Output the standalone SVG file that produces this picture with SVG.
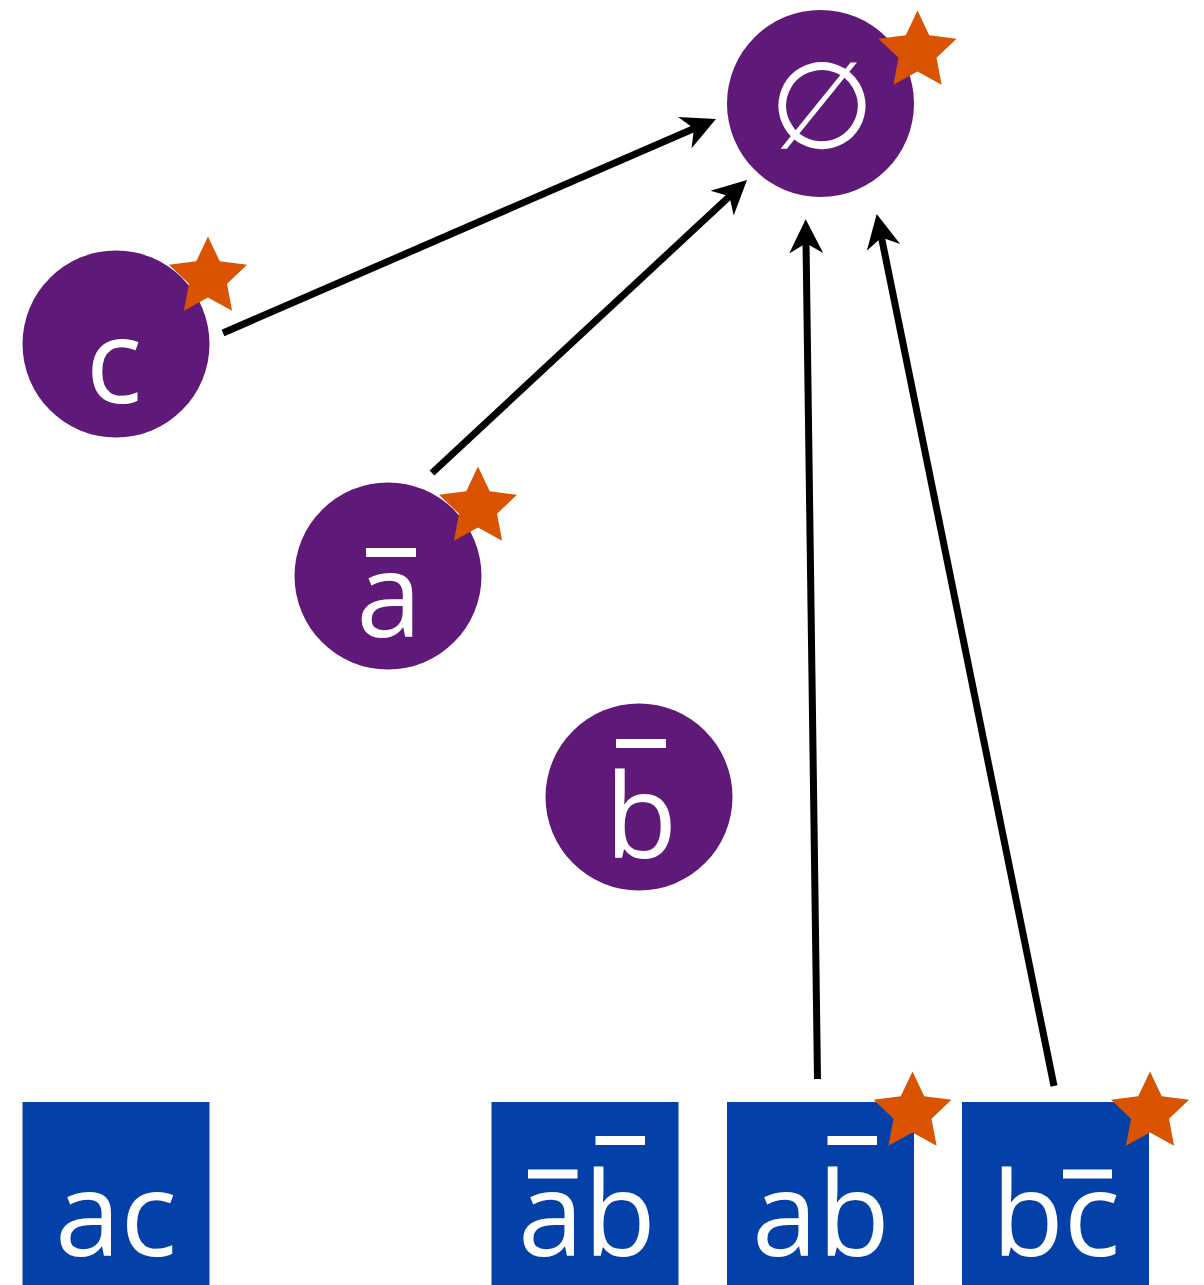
<svg xmlns="http://www.w3.org/2000/svg" xmlns:xlink="http://www.w3.org/1999/xlink" width="1204" height="1285" viewBox="0 0 1204 1285">
<style>
.circ{fill:#5F1978}
.sq{fill:#0341A8}
.lbl{font-family:"Open Sans","Noto Sans","DejaVu Sans",sans-serif;font-size:118px;fill:#fff;text-anchor:middle}
.sym{font-family:"DejaVu Sans",sans-serif;font-size:121px;fill:#fff;text-anchor:middle}
.bar{fill:#fff}
.star{fill:#D95300}
.edge{stroke:#000;stroke-width:7;fill:none;marker-end:url(#arr)}
</style>
<defs>
<path id="starShape" d="M0,-41 L11.76,-16.18 L38.99,-12.67 L19.02,6.18 L24.1,33.17 L0,20 L-24.1,33.17 L-19.02,6.18 L-38.99,-12.67 L-11.76,-16.18 Z"/>
<marker id="arr" markerUnits="userSpaceOnUse" markerWidth="40" markerHeight="40" viewBox="0 -20 40 40" refX="12" refY="0" orient="auto">
<path d="M0,-17 L34,0 L0,17 L10,0 Z" fill="#000"/>
</marker>
</defs>
<g id="edges">
<line class="edge" x1="223" y1="333" x2="695.8" y2="127.8"/>
<line class="edge" x1="432" y1="473" x2="730.9" y2="195"/>
<line class="edge" x1="817.5" y1="1079" x2="806" y2="241.3"/>
<line class="edge" x1="1054" y1="1086" x2="881.1" y2="235.6"/>
</g>
<g id="node-empty">
<circle class="circ" cx="820.5" cy="103.5" r="93.5"/>
<text class="sym" x="822" y="148">∅</text>
<use xlink:href="#starShape" class="star" x="917.5" y="51.5"/>
</g>
<g id="node-c">
<circle class="circ" cx="116" cy="344" r="93.5"/>
<text class="lbl" x="114" y="403">c</text>
<use xlink:href="#starShape" class="star" x="208" y="277.5"/>
</g>
<g id="node-abar">
<circle class="circ" cx="388" cy="576" r="93.5"/>
<text class="lbl" x="389" y="637">a</text>
<rect class="bar" x="366" y="548" width="50" height="9"/>
<use xlink:href="#starShape" class="star" x="478" y="507.5"/>
</g>
<g id="node-bbar">
<circle class="circ" cx="639" cy="797" r="93.5"/>
<text class="lbl" x="641" y="858">b</text>
<rect class="bar" x="616" y="739" width="50" height="9"/>
</g>
<g id="node-ac">
<rect class="sq" x="22.5" y="1102" width="187" height="187"/>
<text class="lbl" x="116" y="1256">ac</text>
</g>
<g id="node-abarbbar">
<rect class="sq" x="491.5" y="1102" width="187" height="187"/>
<text class="lbl" x="587" y="1256">ab</text>
<rect class="bar" x="528" y="1169.5" width="49.5" height="9"/>
<rect class="bar" x="595.5" y="1136" width="49.5" height="9"/>
</g>
<g id="node-abbar">
<rect class="sq" x="727" y="1102" width="187" height="187"/>
<text class="lbl" x="821" y="1256">ab</text>
<rect class="bar" x="827.5" y="1136" width="49.5" height="9"/>
<use xlink:href="#starShape" class="star" x="912.5" y="1112.5"/>
</g>
<g id="node-bcbar">
<rect class="sq" x="962" y="1102" width="187" height="187"/>
<text class="lbl" x="1056" y="1256">bc</text>
<rect class="bar" x="1063" y="1169.5" width="49" height="9"/>
<use xlink:href="#starShape" class="star" x="1150" y="1112.5"/>
</g>
</svg>
